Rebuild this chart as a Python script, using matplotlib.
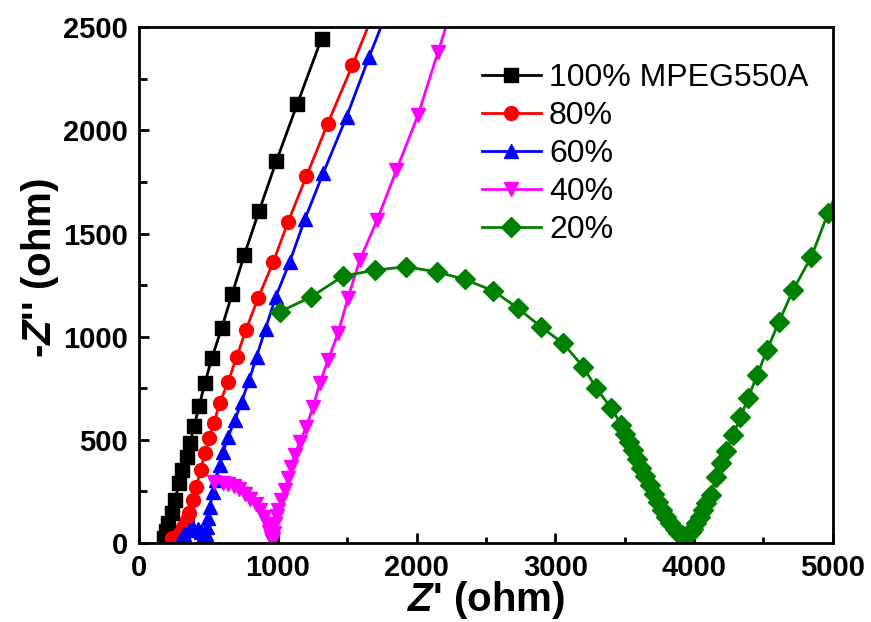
import matplotlib
matplotlib.use('Agg')
import matplotlib.pyplot as plt
from matplotlib.ticker import MultipleLocator

plt.rcParams['mathtext.fontset'] = 'custom'
plt.rcParams['mathtext.it'] = 'Liberation Sans:italic:bold'
plt.rcParams['mathtext.rm'] = 'Liberation Sans:bold'

# Nyquist data
x100 = [180, 192, 208, 232, 256, 287, 311, 340, 364, 395, 431, 472, 522, 593, 669, 756, 864, 989, 1138, 1314]
y100 = [25, 60, 95, 144, 208, 289, 354, 418, 483, 567, 664, 774, 895, 1041, 1207, 1395, 1611, 1853, 2127, 2446]

x80 = [232, 265, 290, 316, 340, 359, 388, 412, 441, 472, 503, 537, 580, 640, 701, 768, 857, 965, 1073, 1205, 1357, 1537, 1720]
y80 = [24, 30, 50, 79, 110, 144, 208, 273, 354, 435, 507, 583, 677, 782, 900, 1032, 1189, 1361, 1558, 1779, 2031, 2317, 2620]

x60 = [290, 320, 355, 390, 420, 445, 462, 472, 480, 486, 495, 508, 532, 552, 580, 604, 640, 689, 737, 792, 845, 910, 984, 1085, 1193, 1325, 1494, 1657, 1830]
y60 = [15, 45, 65, 72, 68, 55, 35, 20, 45, 80, 120, 176, 249, 305, 378, 443, 515, 596, 685, 790, 903, 1040, 1194, 1364, 1569, 1792, 2066, 2357, 2650]

x40 = [540, 600, 640, 680, 720, 760, 800, 840, 870, 900, 920, 935, 948, 955, 962, 970, 980, 990, 1001, 1025, 1049, 1073, 1097, 1121, 1157, 1205, 1253, 1301, 1361, 1433, 1505, 1590, 1715, 1854, 2010, 2154, 2300]
y40 = [297, 290, 285, 275, 260, 240, 215, 190, 160, 125, 90, 55, 25, 10, 20, 50, 90, 130, 160, 208, 257, 314, 370, 427, 491, 564, 661, 774, 887, 1017, 1190, 1372, 1566, 1808, 2075, 2381, 2690]

x20 = [1013, 1241, 1469, 1698, 1924, 2143, 2347, 2551, 2731, 2900, 3056, 3200, 3296, 3404, 3477, 3505, 3530, 3560, 3590, 3620, 3650, 3680, 3710, 3740, 3770, 3800, 3830, 3860, 3885, 3910, 3930, 3945, 3960, 3975, 3993, 4015, 4041, 4065, 4089, 4120, 4161, 4197, 4234, 4281, 4334, 4389, 4455, 4527, 4613, 4714, 4846, 4966, 5090]
y20 = [1121, 1194, 1294, 1323, 1339, 1315, 1278, 1223, 1138, 1046, 968, 855, 750, 653, 572, 530, 490, 450, 408, 366, 324, 282, 240, 200, 162, 128, 96, 70, 50, 38, 31, 30, 40, 52, 66, 95, 127, 160, 192, 235, 321, 386, 447, 523, 609, 701, 814, 936, 1073, 1226, 1388, 1598, 1800]

labels = ['100% MPEG550A', '80%', '60%', '40%', '20%']
colors = ['black', '#ff0000', '#0000ff', '#ff00ff', '#008000']
markers = ['s', 'o', '^', 'v', 'D']

bold_font = ['Liberation Sans', 'DejaVu Sans']

fig = plt.figure(figsize=(8.71, 6.22), dpi=100)
ax = fig.add_axes([0.160, 0.127, 0.796, 0.829])

series = [(x100, y100), (x80, y80), (x60, y60), (x40, y40), (x20, y20)]
for (xs, ys), lab, c, m in zip(series, labels, colors, markers):
    ax.plot(xs, ys, color=c, marker=m, markersize=10, linewidth=2, label=lab)

ax.set_xlim(0, 5000)
ax.set_ylim(0, 2500)
ax.xaxis.set_major_locator(MultipleLocator(1000))
ax.xaxis.set_minor_locator(MultipleLocator(500))
ax.yaxis.set_major_locator(MultipleLocator(500))
ax.yaxis.set_minor_locator(MultipleLocator(250))
ax.tick_params(which='major', direction='in', length=7, width=2, pad=8)
ax.tick_params(which='minor', direction='in', length=4, width=2)
ax.tick_params(axis='y', which='minor', length=6)

for s in ax.spines.values():
    s.set_linewidth(2)

for t in ax.get_xticklabels() + ax.get_yticklabels():
    t.set_family(bold_font)
    t.set_fontweight('bold')
    t.set_fontsize(21)

ax.set_xlabel("$Z$' (ohm)", family=bold_font, fontweight='bold', fontsize=29, labelpad=-2)
ax.set_ylabel("-$Z$'' (ohm)", family=bold_font, fontweight='bold', fontsize=29, labelpad=2, y=0.533)

leg = ax.legend(loc='upper left', bbox_to_anchor=(0.494, 0.93), frameon=False,
                prop={'family': ['Liberation Sans', 'DejaVu Sans'], 'size': 23},
                handlelength=1.85, handletextpad=0.25, labelspacing=0.25,
                borderpad=0, borderaxespad=0)

fig.savefig('out.png', dpi=100)
